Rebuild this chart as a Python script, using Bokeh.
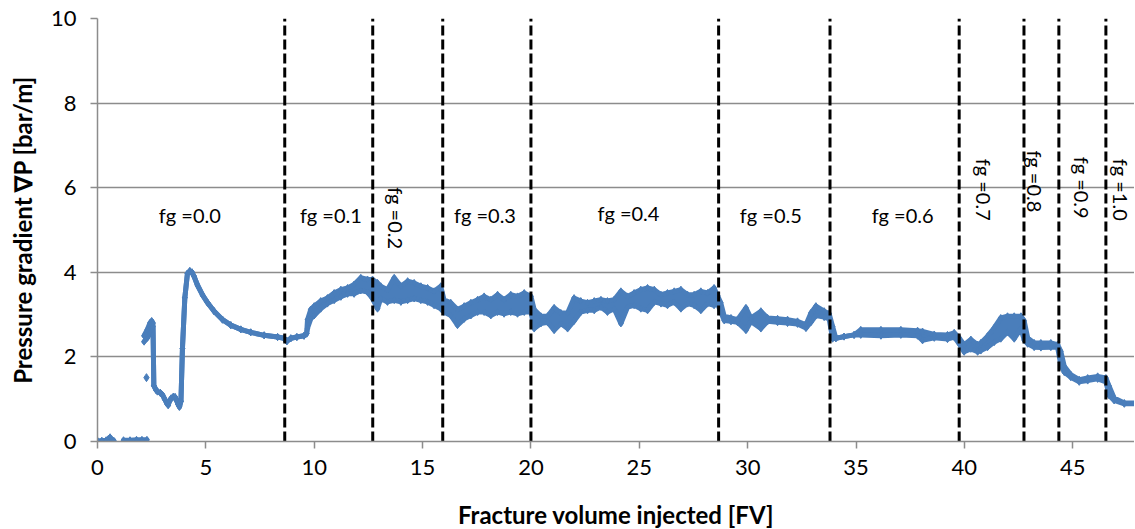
import math
from bokeh.plotting import figure
from bokeh.models import FixedTicker
from bokeh.core.properties import value
from bokeh.embed import file_html
from bokeh.resources import INLINE

# ---- data ----
# near-zero start fragments
start1_fv = [0.00, 0.20, 0.40, 0.50, 0.58, 0.66, 0.75]
start1_dp = [0.02, 0.02, 0.03, 0.06, 0.10, 0.04, 0.02]
start2_fv = [1.20, 1.50, 1.80, 2.05, 2.28]
start2_dp = [0.03, 0.03, 0.04, 0.04, 0.04]
# isolated point
outlier_fv = [2.26]
outlier_dp = [1.51]

# main series: fracture volume and lower / upper envelope of the noisy scatter
fv = [2.15, 2.30, 2.42, 2.50, 2.56, 2.60, 2.70, 2.77, 2.90, 3.00, 3.10, 3.20, 3.26, 3.32,
      3.40, 3.50, 3.58, 3.64, 3.72, 3.78, 3.85, 3.92, 4.03, 4.15, 4.26, 4.36, 4.46, 4.61,
      4.85, 5.08, 5.38, 5.77, 6.15, 6.61, 7.07, 7.69, 8.31, 8.61, 8.74, 8.92, 9.20, 9.53,
      9.65, 9.69, 9.84, 10.00, 10.30, 10.61, 10.92, 11.23, 11.54, 11.84, 12.15, 12.46,
      12.69, 12.92, 13.07, 13.38, 13.69, 14.00, 14.31, 14.61, 14.92, 15.23, 15.53, 15.84,
      15.99, 16.30, 16.61, 16.92, 17.23, 17.54, 17.84, 18.15, 18.46, 18.76, 19.07, 19.38,
      19.69, 20.00, 20.15, 20.46, 20.77, 21.07, 21.38, 21.69, 21.99, 22.30, 22.61, 22.92,
      23.23, 23.53, 23.84, 24.15, 24.46, 24.76, 25.07, 25.38, 25.69, 26.00, 26.30, 26.61,
      26.92, 27.23, 27.53, 27.84, 28.15, 28.45, 28.61, 28.76, 28.92, 29.23, 29.53, 29.92,
      30.15, 30.61, 30.92, 31.38, 31.84, 32.30, 32.69, 32.92, 33.15, 33.53, 33.76, 33.92,
      34.07, 34.45, 34.91, 35.22, 36.15, 37.07, 37.84, 38.07, 38.61, 39.22, 39.53, 39.76,
      39.99, 40.30, 40.61, 40.76, 41.07, 41.38, 41.68, 41.99, 42.30, 42.61, 42.76, 42.92,
      43.22, 43.53, 43.99, 44.30, 44.45, 44.61, 44.91, 45.30, 45.69, 46.15, 46.53, 46.68,
      46.91, 47.38, 47.92]
dp_lo = [2.36, 2.45, 2.58, 2.72, 2.72, 1.32, 1.22, 1.18, 1.15, 1.10, 1.00, 0.90, 0.86, 0.95,
         1.02, 1.06, 1.05, 0.98, 0.88, 0.82, 0.95, 2.20, 3.40, 3.97, 4.03, 4.00, 3.90, 3.70,
         3.46, 3.28, 3.08, 2.88, 2.75, 2.65, 2.58, 2.51, 2.47, 2.44, 2.37, 2.44, 2.47, 2.50,
         2.55, 2.68, 2.90, 2.98, 3.14, 3.26, 3.34, 3.42, 3.49, 3.49, 3.57, 3.53,
         3.38, 3.14, 3.38, 3.30, 3.34, 3.30, 3.34, 3.38, 3.34, 3.30, 3.22, 3.14,
         3.06, 2.98, 2.75, 2.90, 2.98, 3.06, 3.06, 2.98, 3.06, 3.02, 3.06, 3.02,
         3.06, 3.06, 2.67, 2.79, 2.82, 2.63, 2.79, 2.67, 2.85, 3.06, 3.10, 3.10,
         3.18, 3.06, 3.14, 2.79, 3.18, 3.22, 3.14, 3.10, 3.30, 3.26, 3.22, 3.30,
         3.14, 3.26, 3.22, 3.10, 3.26, 3.22, 3.26, 3.06, 2.86, 2.84, 2.82, 2.63,
         2.84, 2.67, 2.84, 2.82, 2.80, 2.78, 2.68, 2.82, 2.98, 2.94, 2.90, 2.43,
         2.44, 2.48, 2.52, 2.52, 2.50, 2.52, 2.50, 2.39, 2.45, 2.42, 2.47, 2.31,
         2.12, 2.19, 2.12, 2.15, 2.23, 2.35, 2.43, 2.59, 2.43, 2.67, 2.40, 2.31,
         2.23, 2.22, 2.23, 2.23, 1.80, 1.64, 1.52, 1.41, 1.44, 1.48, 1.41, 1.09,
         0.97, 0.89, 0.89]
dp_hi = [2.50, 2.65, 2.80, 2.85, 2.80, 1.32, 1.22, 1.18, 1.15, 1.10, 1.00, 0.90, 0.86, 0.95,
         1.02, 1.06, 1.05, 0.98, 0.88, 0.82, 0.95, 2.20, 3.40, 3.97, 4.03, 4.00, 3.90, 3.70,
         3.46, 3.28, 3.08, 2.88, 2.75, 2.65, 2.58, 2.51, 2.47, 2.44, 2.37, 2.44, 2.47, 2.50,
         2.55, 2.88, 3.12, 3.20, 3.32, 3.39, 3.51, 3.59, 3.63, 3.71, 3.87, 3.83,
         3.83, 3.75, 3.67, 3.59, 3.87, 3.67, 3.79, 3.75, 3.67, 3.63, 3.55, 3.67,
         3.35, 3.28, 3.12, 3.20, 3.28, 3.35, 3.43, 3.35, 3.47, 3.35, 3.47, 3.43,
         3.51, 3.43, 3.12, 2.96, 2.96, 3.16, 3.04, 3.04, 3.39, 3.32, 3.28, 3.32,
         3.35, 3.32, 3.35, 3.55, 3.43, 3.51, 3.59, 3.63, 3.59, 3.47, 3.51, 3.55,
         3.59, 3.47, 3.47, 3.55, 3.51, 3.63, 3.45, 3.28, 2.96, 2.92, 2.88, 3.16,
         2.92, 3.08, 2.92, 2.90, 2.88, 2.84, 2.76, 3.04, 3.20, 3.08, 3.02, 2.72,
         2.44, 2.48, 2.52, 2.64, 2.64, 2.64, 2.62, 2.60, 2.53, 2.52, 2.57, 2.45,
         2.29, 2.41, 2.29, 2.33, 2.49, 2.69, 2.92, 2.96, 2.96, 2.96, 2.85, 2.45,
         2.33, 2.33, 2.33, 2.29, 2.13, 1.78, 1.58, 1.46, 1.50, 1.54, 1.50, 1.31,
         1.03, 0.91, 0.91]

# gas-fraction step boundaries and labels
fg_bounds = [8.64, 12.70, 15.93, 20.00, 28.66, 33.80, 39.76, 42.75, 44.36, 46.53]
fg_text = ["fg =0.0", "fg =0.1", "fg =0.2", "fg =0.3", "fg =0.4", "fg =0.5",
           "fg =0.6", "fg =0.7", "fg =0.8", "fg =0.9", "fg =1.0"]
fg_label_x = [4.26, 10.77, 13.77, 17.88, 24.50, 31.07, 37.15, 40.90, 43.25, 45.45, 47.22]
fg_label_y = [5.36, 5.36, 5.28, 5.36, 5.40, 5.36, 5.36, 5.95, 6.15, 6.00, 5.95]
fg_vertical = [False, False, True, False, False, False, False, True, True, True, True]

x_ticks = [0, 5, 10, 15, 20, 25, 30, 35, 40, 45]
y_ticks = [0, 2, 4, 6, 8, 10]

# ---- figure ----
BLUE = "#4A7EBB"
GRAY = "#8C8C8C"
FONT = "Lato"

p = figure(frame_width=1037, frame_height=423,
           min_border_left=97, min_border_right=0, min_border_top=18, min_border_bottom=87,
           x_range=(0, 47.85), y_range=(0, 10),
           output_backend="svg", toolbar_location=None)
p.outline_line_color = None
p.background_fill_color = "white"
p.border_fill_color = "white"

p.xgrid.grid_line_color = None
p.ygrid.grid_line_color = GRAY
p.ygrid.grid_line_width = 1.5
p.ygrid.ticker = FixedTicker(ticks=y_ticks)

for ax in (p.xaxis[0], p.yaxis[0]):
    ax.axis_line_color = GRAY
    ax.axis_line_width = 1.5
    ax.major_tick_line_color = GRAY
    ax.major_tick_line_width = 1.5
    ax.major_tick_out = 7
    ax.major_tick_in = 0
    ax.minor_tick_line_color = None
    ax.major_label_text_font = FONT
    ax.major_label_text_font_size = "22px"
    ax.major_label_text_color = "black"
    ax.axis_label_text_font = FONT
    ax.axis_label_text_font_size = "24px"
    ax.axis_label_text_font_style = "bold"
    ax.axis_label_text_color = "black"

p.xaxis.ticker = FixedTicker(ticks=x_ticks)
p.yaxis.ticker = FixedTicker(ticks=y_ticks)
p.xaxis.axis_label = "Fracture volume injected [FV]"
p.yaxis.axis_label = "Pressure gradient \u2207P [bar/m]"
p.xaxis.major_label_standoff = 11
p.yaxis.major_label_standoff = 14
p.xaxis.axis_label_standoff = 22
p.yaxis.axis_label_standoff = 11

# data band
p.varea(x=fv, y1=dp_lo, y2=dp_hi, fill_color=BLUE)
for ys in (dp_lo, dp_hi):
    p.line(fv, ys, line_color=BLUE, line_width=5, line_join="round", line_cap="round")
p.scatter(fv, dp_lo, marker="diamond", size=7, color=BLUE)
p.scatter(fv, dp_hi, marker="diamond", size=7, color=BLUE)
for xs, ys in ((start1_fv, start1_dp), (start2_fv, start2_dp)):
    p.line(xs, ys, line_color=BLUE, line_width=5, line_join="round", line_cap="round")
    p.scatter(xs, ys, marker="diamond", size=7, color=BLUE)
p.scatter(outlier_fv, outlier_dp, marker="diamond", size=8, color=BLUE)

# dashed step boundaries
p.segment(x0=fg_bounds, y0=[0] * len(fg_bounds), x1=fg_bounds, y1=[10] * len(fg_bounds),
          line_color="black", line_width=3, line_dash="10 4")

# labels
hx = [x for x, v in zip(fg_label_x, fg_vertical) if not v]
hy = [y for y, v in zip(fg_label_y, fg_vertical) if not v]
ht = [t for t, v in zip(fg_text, fg_vertical) if not v]
vx = [x for x, v in zip(fg_label_x, fg_vertical) if v]
vy = [y for y, v in zip(fg_label_y, fg_vertical) if v]
vt = [t for t, v in zip(fg_text, fg_vertical) if v]
p.text(hx, hy, text=ht, text_font=value(FONT), text_font_size="20px",
       text_align="center", text_baseline="middle", text_color="black")
p.text(vx, vy, text=vt, angle=-math.pi / 2, text_font=value(FONT), text_font_size="20px",
       text_align="center", text_baseline="middle", text_color="black")

open("out.html", "w").write(file_html(p, INLINE))
